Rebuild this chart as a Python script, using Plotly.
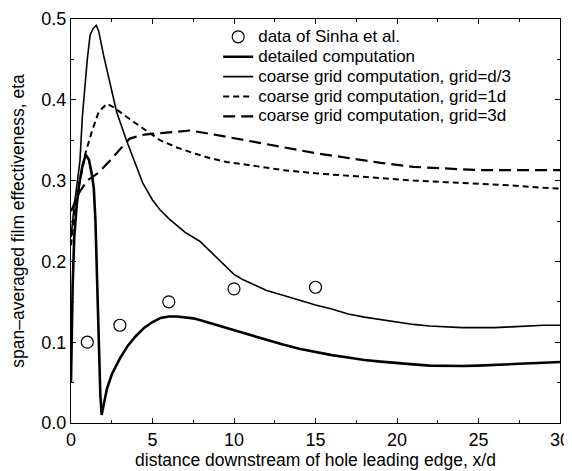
import plotly.graph_objects as go

# ---- data ----
sinha_x = [1, 3, 6, 10, 15]
sinha_y = [0.100, 0.121, 0.150, 0.166, 0.168]

detailed_x = [0, 0.1, 0.2, 0.35, 0.5, 0.7, 0.9, 1.1, 1.3, 1.4, 1.5, 1.6, 1.7, 1.8, 1.88,
              2.0, 2.2, 2.5, 3.0, 3.5, 4.0, 4.5, 5.0, 5.5, 6.0, 6.5, 7.0, 7.5, 8, 9, 10,
              11, 12, 13, 14, 15, 16, 17, 18, 19, 20, 21, 22, 23, 24, 25, 26, 27, 28, 29, 30]
detailed_y = [0.05, 0.17, 0.23, 0.27, 0.295, 0.318, 0.332, 0.326, 0.305, 0.29, 0.25, 0.18,
              0.10, 0.035, 0.01, 0.022, 0.042, 0.06, 0.08, 0.096, 0.108, 0.118, 0.125, 0.130,
              0.1318, 0.1318, 0.131, 0.1295, 0.127, 0.121, 0.115, 0.109, 0.103, 0.097, 0.092,
              0.088, 0.084, 0.081, 0.078, 0.076, 0.074, 0.0725, 0.071, 0.0705, 0.0705, 0.071,
              0.072, 0.073, 0.074, 0.075, 0.0755]

d3_x = [0, 0.2, 0.4, 0.55, 0.7, 0.85, 1.0, 1.17, 1.35, 1.55, 1.7, 2.0, 2.39, 2.8, 3.4, 4.0,
        4.4, 5.0, 5.46, 6.0, 6.5, 7.0, 7.9, 8.5, 9.1, 9.5, 10, 10.5, 11, 11.6, 12, 13, 14, 15,
        16, 17, 18, 19, 20, 21, 22, 23, 24, 25, 26, 27, 28, 29, 30]
d3_y = [0.23, 0.27, 0.30, 0.325, 0.38, 0.42, 0.45, 0.48, 0.488, 0.492, 0.485, 0.455, 0.42,
        0.385, 0.35, 0.318, 0.297, 0.276, 0.264, 0.253, 0.244, 0.236, 0.225, 0.213, 0.202,
        0.193, 0.184, 0.178, 0.173, 0.167, 0.164, 0.158, 0.152, 0.146, 0.141, 0.135, 0.131,
        0.128, 0.125, 0.122, 0.120, 0.119, 0.118, 0.118, 0.118, 0.119, 0.120, 0.121, 0.121]

g1_x = [0, 0.3, 0.55, 0.9, 1.3, 1.7, 2.2, 2.6, 3.4, 4.5, 5.46, 6.5, 7.5, 8.5, 9.55, 11, 13,
        15, 17, 19, 21, 23, 25, 27, 29, 30]
g1_y = [0.22, 0.275, 0.30, 0.335, 0.362, 0.385, 0.395, 0.391, 0.379, 0.363, 0.350, 0.341,
        0.334, 0.328, 0.323, 0.319, 0.313, 0.309, 0.306, 0.303, 0.300, 0.298, 0.296, 0.294,
        0.291, 0.290]

g3_x = [0, 0.5, 1.0, 1.7, 2.4, 3.0, 3.6, 4.5, 5.5, 6.7, 7.3, 8.5, 9.55, 11, 13, 15, 17, 19,
        21, 23, 25, 27, 30]
g3_y = [0.262, 0.285, 0.30, 0.31, 0.325, 0.338, 0.352, 0.357, 0.359, 0.361, 0.362, 0.358,
        0.354, 0.349, 0.341, 0.334, 0.328, 0.322, 0.317, 0.315, 0.313, 0.313, 0.313]

series_names = ["data of Sinha et al.",
                "detailed computation",
                "coarse grid computation, grid=d/3",
                "coarse grid computation, grid=1d",
                "coarse grid computation, grid=3d"]

x_ticks = [0, 5, 10, 15, 20, 25, 30]
y_ticks = [0.0, 0.1, 0.2, 0.3, 0.4, 0.5]

FONT = "Liberation Sans, Arial, Helvetica, sans-serif"


def lg(name):
    # larger legend glyphs while keeping the compact row pitch of the original
    return f"<span style='font-size:17px'>{name}</span>"


fig = go.Figure()
fig.add_trace(go.Scatter(x=sinha_x, y=sinha_y, mode="markers", name=lg(series_names[0]),
                         marker=dict(symbol="circle-open", size=12, color="black",
                                     line=dict(width=1.2, color="black"))))
fig.add_trace(go.Scatter(x=detailed_x, y=detailed_y, mode="lines", name=lg(series_names[1]),
                         line=dict(color="black", width=2.6)))
fig.add_trace(go.Scatter(x=d3_x, y=d3_y, mode="lines", name=lg(series_names[2]),
                         line=dict(color="black", width=1.6)))
fig.add_trace(go.Scatter(x=g1_x, y=g1_y, mode="lines", name=lg(series_names[3]),
                         line=dict(color="black", width=2, dash="6px,4px")))
fig.add_trace(go.Scatter(x=g3_x, y=g3_y, mode="lines", name=lg(series_names[4]),
                         line=dict(color="black", width=2.2, dash="12px,6px")))

axis_common = dict(showline=True, linecolor="black", linewidth=1, mirror="ticks",
                   ticks="inside", ticklen=5, tickcolor="black", showgrid=False,
                   zeroline=False, automargin=False,
                   tickfont=dict(family=FONT, size=18, color="black"))

fig.update_xaxes(range=[0, 30], tickvals=x_ticks, ticktext=[str(v) for v in x_ticks],
                 minor=dict(ticks="inside", ticklen=3, dtick=2.5, tickcolor="black"),
                 title=dict(text="distance downstream of hole leading edge, x/d",
                            font=dict(family=FONT, size=17.5, color="black"), standoff=5),
                 **axis_common)
fig.update_yaxes(range=[0, 0.5], tickvals=y_ticks, ticktext=[f"{v:.1f}" for v in y_ticks],
                 minor=dict(ticks="inside", ticklen=3, dtick=0.05, tickcolor="black"),
                 title=dict(text="span\u2013averaged film effectiveness, eta",
                            font=dict(family=FONT, size=17.5, color="black"), standoff=13),
                 **axis_common)

# the page adds an 8px body margin, so the figure is sized to fit the 572x471 window
fig.update_layout(
    template="simple_white",
    width=564, height=463,
    margin=dict(l=63, r=12, t=11, b=48, autoexpand=False),
    plot_bgcolor="white", paper_bgcolor="white",
    font=dict(family=FONT, size=14, color="black"),
    showlegend=True,
    legend=dict(x=0.301, y=0.993, xanchor="left", yanchor="top",
                bgcolor="rgba(0,0,0,0)", borderwidth=0,
                font=dict(family=FONT, size=13, color="black"),
                itemwidth=30, tracegroupgap=0),
)

fig.write_html("out.html")
